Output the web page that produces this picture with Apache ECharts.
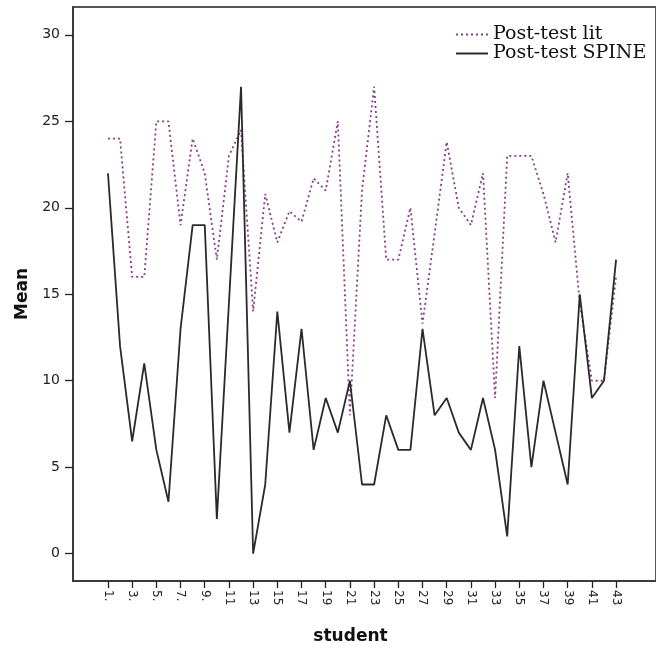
<!DOCTYPE html>
<html>
<head>
<meta charset="utf-8">
<script src="https://cdn.jsdelivr.net/npm/echarts@6/dist/echarts.min.js"></script>
<style>
  html, body { margin: 0; padding: 0; background: #fff; }
  #chart { width: 656px; height: 650px; }
</style>
</head>
<body>
<div id="chart"></div>
<script>
// Student numbers along the horizontal axis
const students = [1, 2, 3, 4, 5, 6, 7, 8, 9, 10, 11, 12, 13, 14, 15, 16, 17, 18, 19, 20, 21,
  22, 23, 24, 25, 26, 27, 28, 29, 30, 31, 32, 33, 34, 35, 36, 37, 38, 39, 40, 41, 42, 43];

// Mean post-test scores per student
const postTestLit = [24, 24, 16, 16, 25, 25, 19, 24, 22, 17, 23, 24.5, 14, 20.8, 18, 19.8, 19.2,
  21.7, 21, 25, 8, 21, 27, 17, 17, 20, 13.3, 18.5, 23.8, 20, 19, 22, 9, 23, 23, 23, 20.8, 18, 22,
  14.5, 10, 10, 16];
const postTestSpine = [22, 12, 6.5, 11, 6, 3, 13, 19, 19, 2, 14.5, 27, 0, 4, 14, 7, 13, 6, 9, 7,
  10, 4, 4, 8, 6, 6, 13, 8, 9, 7, 6, 9, 6, 1, 12, 5, 10, 7, 4, 15, 9, 10, 17];

// Tick positions and their labels
const xTickValues = [1, 3, 5, 7, 9, 11, 13, 15, 17, 19, 21, 23, 25, 27, 29, 31, 33, 35, 37, 39, 41, 43];
const xTickLabels = ['1.', '3.', '5.', '7.', '9.', '11', '13', '15', '17', '19', '21', '23', '25',
  '27', '29', '31', '33', '35', '37', '39', '41', '43'];
const yTickValues = [0, 5, 10, 15, 20, 25, 30];

const seriesNames = ['Post-test lit', 'Post-test SPINE'];

const pairs = (vals) => students.map((s, i) => [s, vals[i]]);

const chart = echarts.init(document.getElementById('chart'), null, { renderer: 'canvas' });

chart.setOption({
  backgroundColor: '#ffffff',
  animation: false,
  grid: {
    left: 73, top: 7, width: 600, height: 577,
    show: true, borderColor: '#555', borderWidth: 2, backgroundColor: 'transparent'
  },
  legend: {
    orient: 'vertical',
    left: 455, top: 25,
    itemWidth: 32, itemHeight: 14, itemGap: 0,
    padding: 0,
    data: seriesNames,
    itemStyle: { opacity: 0 },
    textStyle: { fontFamily: 'DejaVu Serif', fontSize: 19, color: '#111' }
  },
  xAxis: {
    type: 'value',
    min: -1.89, max: 46.3,
    name: 'student',
    nameLocation: 'middle',
    nameGap: 47,
    nameTextStyle: { fontFamily: 'DejaVu Sans', fontWeight: 'bold', fontSize: 17, color: '#111',
      padding: [0, 28, 0, 0] },
    axisLine: { onZero: false, lineStyle: { color: '#333', width: 1.5 } },
    axisTick: { show: true, length: 7, customValues: xTickValues, lineStyle: { color: '#222', width: 1.3 } },
    axisLabel: {
      customValues: xTickValues,
      rotate: -90,
      margin: 9,
      fontFamily: 'DejaVu Sans', fontSize: 12, color: '#222',
      formatter: (v) => xTickLabels[xTickValues.indexOf(Math.round(v))] || ''
    },
    splitLine: { show: false }
  },
  yAxis: {
    type: 'value',
    min: -1.58, max: 31.61,
    name: 'Mean',
    nameLocation: 'middle',
    nameGap: 42,
    nameRotate: 90,
    nameTextStyle: { fontFamily: 'DejaVu Sans', fontWeight: 'bold', fontSize: 17, color: '#111' },
    axisLine: { show: true, onZero: false, lineStyle: { color: '#333', width: 1.5 } },
    axisTick: { show: true, length: 8, customValues: yTickValues, lineStyle: { color: '#222', width: 1.3 } },
    axisLabel: {
      customValues: yTickValues,
      margin: 13,
      fontFamily: 'DejaVu Sans', fontSize: 14, color: '#222'
    },
    splitLine: { show: false }
  },
  series: [
    {
      name: seriesNames[0],
      type: 'line',
      data: pairs(postTestLit),
      symbol: 'none',
      lineStyle: { color: '#8a3a8a', width: 1.8, type: [2, 3] },
      itemStyle: { color: '#8a3a8a' },
      z: 2
    },
    {
      name: seriesNames[1],
      type: 'line',
      data: pairs(postTestSpine),
      symbol: 'none',
      lineStyle: { color: '#2a2a2a', width: 1.8, type: 'solid' },
      itemStyle: { color: '#2a2a2a' },
      z: 3
    }
  ]
});
</script>
</body>
</html>
